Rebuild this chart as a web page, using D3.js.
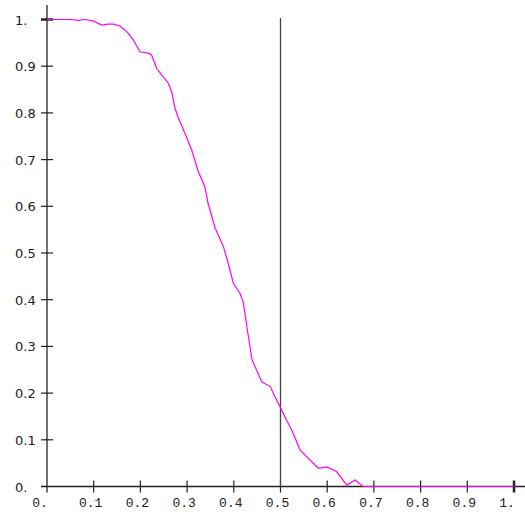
<!DOCTYPE html>
<html>
<head>
<meta charset="utf-8">
<script src="https://cdn.jsdelivr.net/npm/d3@7"></script>
<style>
  body { margin: 0; background: #fff; }
  text { font-family: "Liberation Mono", "DejaVu Sans Mono", monospace; font-size: 13px; fill: #222; }
  text.ylabel { font-family: "DejaVu Sans", sans-serif; font-size: 13px; }
</style>
</head>
<body>
<script>
// DATA
let xs = [0, 0.05, 0.067, 0.081, 0.099, 0.117, 0.131, 0.142, 0.156, 0.171, 0.185, 0.199, 0.217, 0.224,
  0.235, 0.246, 0.260, 0.267, 0.274, 0.281, 0.296, 0.310, 0.324, 0.338, 0.345, 0.360, 0.370, 0.378,
  0.388, 0.399, 0.413, 0.420, 0.428, 0.439, 0.449, 0.460, 0.478, 0.488, 0.499, 0.513, 0.524, 0.542,
  0.581, 0.599, 0.620, 0.642, 0.660, 0.677, 1.0];
let ys = [1.0, 1.0, 0.998, 1.0, 0.997, 0.988, 0.990, 0.990, 0.986, 0.974, 0.956, 0.931, 0.928, 0.924,
  0.895, 0.881, 0.863, 0.845, 0.81, 0.79, 0.755, 0.72, 0.674, 0.642, 0.606, 0.553, 0.531, 0.513,
  0.478, 0.435, 0.414, 0.396, 0.342, 0.271, 0.249, 0.224, 0.214, 0.192, 0.171, 0.142, 0.121, 0.078,
  0.039, 0.042, 0.032, 0.003, 0.014, 0, 0];
let tickValues = [0, 0.1, 0.2, 0.3, 0.4, 0.5, 0.6, 0.7, 0.8, 0.9, 1];
let tickLabels = ["0.", "0.1", "0.2", "0.3", "0.4", "0.5", "0.6", "0.7", "0.8", "0.9", "1."];
let markerX = 0.5;

let width = 525;
let height = 518;

let data = xs.map((x, i) => ({ x: x, y: ys[i] }));

let svg = d3.select("body").append("svg")
  .attr("width", width)
  .attr("height", height);

let x_scale = d3.scaleLinear().domain([0, 1]).range([47, 514]);
let y_scale = d3.scaleLinear().domain([0, 1]).range([486.5, 19.5]);

// axis lines
svg.append("line")
  .attr("x1", x_scale(0) - 6).attr("x2", width)
  .attr("y1", y_scale(0)).attr("y2", y_scale(0))
  .attr("stroke", "#222").attr("stroke-width", 1.3);

svg.append("line")
  .attr("x1", x_scale(0)).attr("x2", x_scale(0))
  .attr("y1", 5).attr("y2", y_scale(0) + 6)
  .attr("stroke", "#222").attr("stroke-width", 1.3);

// x ticks
svg.selectAll(".xtick")
  .data(tickValues.slice(1))
  .join("line")
  .attr("class", "xtick")
  .attr("x1", d => x_scale(d)).attr("x2", d => x_scale(d))
  .attr("y1", y_scale(0) - 6).attr("y2", y_scale(0) + 6)
  .attr("stroke", "#222")
  .attr("stroke-width", d => d == 1 ? 2.5 : 1.2);

svg.selectAll(".xlabel")
  .data(tickValues)
  .join("text")
  .attr("class", "xlabel")
  .attr("x", d => x_scale(d) - 14.7)
  .attr("y", 507)
  .text((d, i) => tickLabels[i]);

// y ticks
svg.selectAll(".ytick")
  .data(tickValues.slice(1))
  .join("line")
  .attr("class", "ytick")
  .attr("x1", x_scale(0) - 6).attr("x2", x_scale(0) + 6)
  .attr("y1", d => y_scale(d)).attr("y2", d => y_scale(d))
  .attr("stroke", "#222")
  .attr("stroke-width", d => d == 1 ? 2.5 : 1.2);

svg.selectAll(".ylabel")
  .data(tickValues)
  .join("text")
  .attr("class", "ylabel")
  .attr("x", 15)
  .attr("y", d => y_scale(d) + 5)
  .text((d, i) => tickLabels[i]);

// vertical marker
svg.append("line")
  .attr("x1", x_scale(markerX)).attr("x2", x_scale(markerX))
  .attr("y1", 18).attr("y2", y_scale(0))
  .attr("stroke", "#444").attr("stroke-width", 1.3);

// curve
let line = d3.line()
  .x(d => x_scale(d.x))
  .y(d => y_scale(d.y));

svg.append("path")
  .attr("d", line(data))
  .attr("fill", "none")
  .attr("stroke", "#ff00ff")
  .attr("stroke-width", 1.2);
</script>
</body>
</html>
